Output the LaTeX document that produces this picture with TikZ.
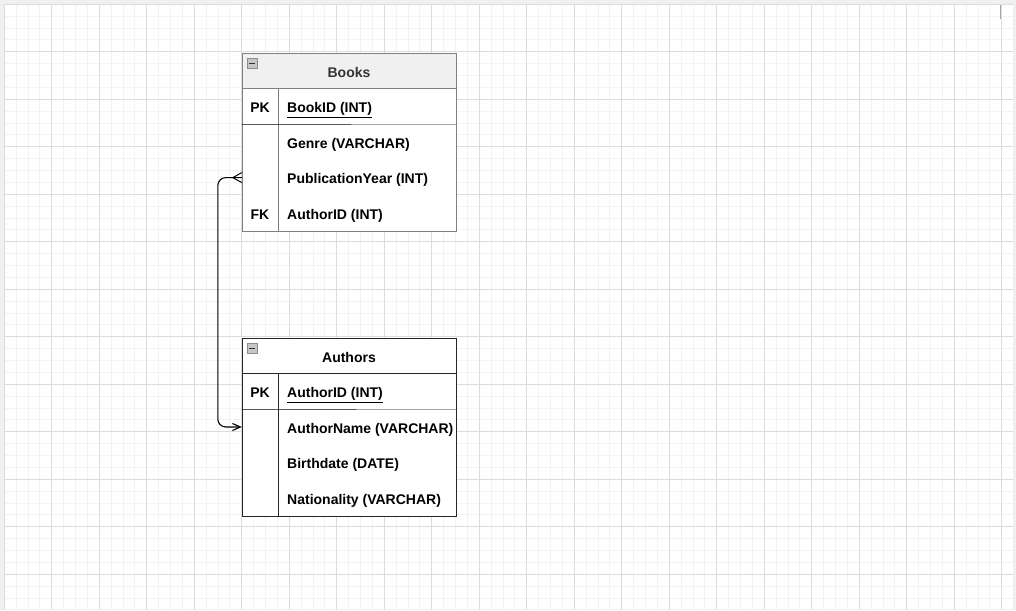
\documentclass[tikz,border=0pt]{standalone}
\usepackage{fontspec}
\setmainfont{Liberation Sans}
\usetikzlibrary{arrows.meta}
\definecolor{gridmajor}{HTML}{DCDCDC}
\definecolor{gridminor}{HTML}{F3F3F3}
\definecolor{headgray}{HTML}{F0F0F0}
\definecolor{edgegray}{HTML}{808080}
\tikzset{erfont/.style={font=\bfseries\fontsize{14}{16}\selectfont, text height=12pt, text depth=0pt},
keycell/.style={erfont, minimum width=36pt, minimum height=35.6pt, inner sep=0pt},
field/.style={erfont, anchor=west, inner sep=0pt},
minusbox/.style={draw=gray!90, fill=gray!45}}

\begin{document}
\begin{tikzpicture}[x=1pt,y=-1pt]
	% canvas and grid
	\fill[gray!12] (0,0) rectangle (1016,610);
	\fill[white] (4,4) rectangle (1013,610);
	\foreach \i in {0,...,84} \draw[gridminor] ({4+11.875*\i},4) -- ({4+11.875*\i},610);
	\foreach \j in {0,...,51} \draw[gridminor] (4,{4+11.875*\j}) -- (1013,{4+11.875*\j});
	\foreach \i in {0,...,21} \draw[gridmajor] ({4+47.5*\i},4) -- ({4+47.5*\i},610);
	\foreach \j in {0,...,12} \draw[gridmajor] (4,{4+47.5*\j}) -- (1013,{4+47.5*\j});
	\draw[gray!70, line width=1.5pt] (1000.5,5) -- (1000.5,19);

	% Books
	\draw[edgegray, fill=headgray] (242,53) rectangle (456,88.6);
	\draw[edgegray, fill=white] (242,88.6) rectangle (456,231);
	\draw[minusbox] (247,58.5) rectangle (257,68.5);
	\draw[black!80, line width=1.5pt] (249.3,63.5) -- (254.7,63.5);
	\node[erfont, text=black!80] (bkhead) at (349,71) {Books};
	\node[keycell] (bk1) at (260,106.4) {PK};
	\node[keycell] (bk2) at (260,142) {};
	\node[keycell] (bk3) at (260,177.6) {};
	\node[keycell] (bk4) at (260,213.2) {FK};
	\node[field] (bkf1) at (287,106.4) {\underline{BookID (INT)}};
	\node[field] (bkf2) at (287,142) {Genre (VARCHAR)};
	\node[field] (bkf3) at (287,177.6) {PublicationYear (INT)};
	\node[field] (bkf4) at (287,213.2) {AuthorID (INT)};
	\draw[edgegray] (bk1.north east) -- (bk4.south east);
	\draw (bk1.south west) -- (456,124.2);

	% Authors
	\draw[black!85, fill=white] (242,338) rectangle (456,516);
	\draw[black!85] (242,373.6) -- (456,373.6);
	\draw[minusbox] (247,343.5) rectangle (257,353.5);
	\draw[black!80, line width=1.5pt] (249.3,348.5) -- (254.7,348.5);
	\node[erfont] (auhead) at (349,356) {Authors};
	\node[keycell] (au1) at (260,391.4) {PK};
	\node[keycell] (au2) at (260,427) {};
	\node[keycell] (au3) at (260,462.6) {};
	\node[keycell] (au4) at (260,498.2) {};
	\node[field] (auf1) at (287,391.4) {\underline{AuthorID (INT)}};
	\node[field] (auf2) at (287,427) {AuthorName (VARCHAR)};
	\node[field] (auf3) at (287,462.6) {Birthdate (DATE)};
	\node[field] (auf4) at (287,498.2) {Nationality (VARCHAR)};
	\draw[black!85] (au1.north east) -- (au4.south east);
	\draw (au1.south west) -- (456,409.2);

	% relation
	\draw[line width=1.1pt, rounded corners=8pt, -{Straight Barb[length=8pt,width=7pt]}] (bk3.west) -- ++(-24,0) |- (au2.west);
	\draw[line width=1pt, shift={(bk3.west)}] (0,-5) -- (-9,0) -- (0,5);
\end{tikzpicture}
\end{document}
